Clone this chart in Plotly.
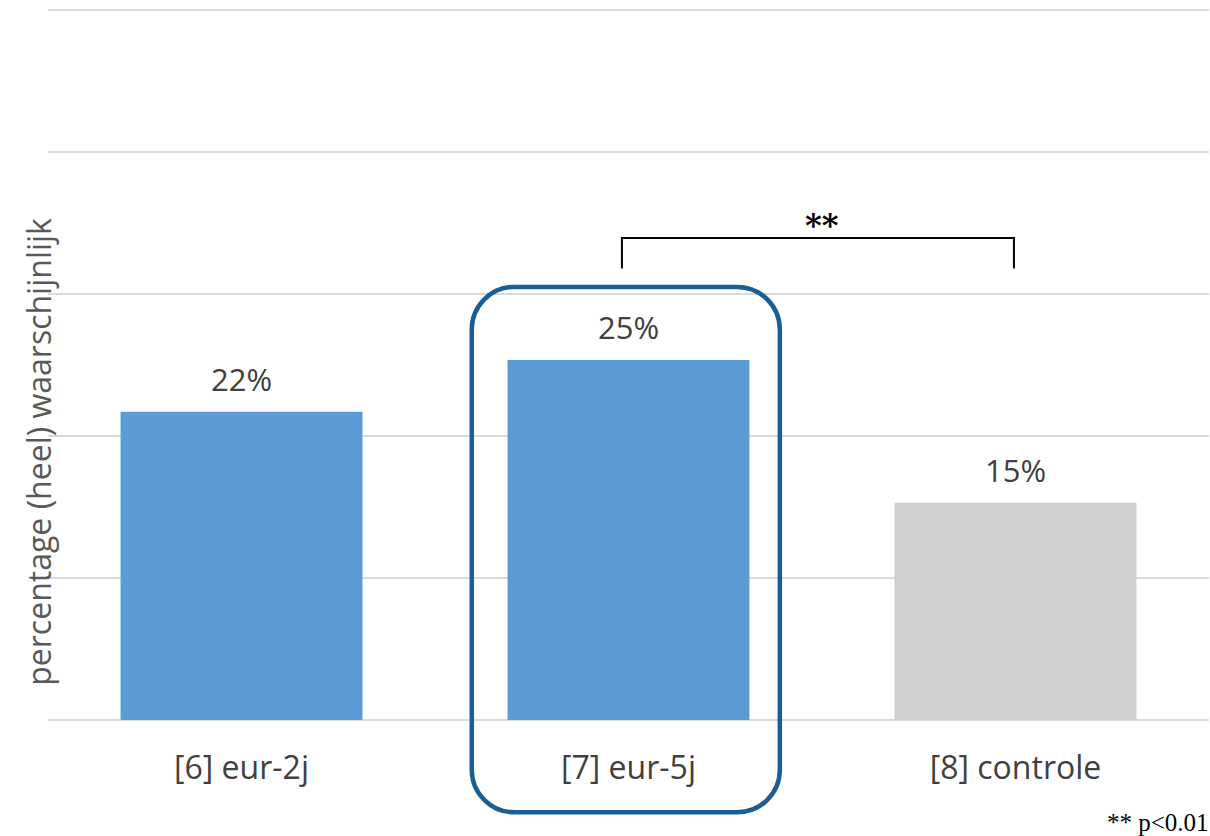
import plotly.graph_objects as go

categories = ["[6] eur-2j", "[7] eur-5j", "[8] controle"]
values = [21.7, 25.35, 15.3]
labels = ["22%", "25%", "15%"]
colors = ["#5b9bd5", "#5b9bd5", "#d0cece"]
y_ticks = [0, 10, 20, 30, 40, 50]
y_title = "percentage (heel) waarschijnlijk"
sig_text = "**"
footnote = "** p<0.01"
highlight_index = 1
bracket_pair = (1, 2)

LABEL_FONT = "Open Sans, Noto Sans, sans-serif"
TEXT_COLOR = "#404040"
Y_MAX = 50
X_MIN, X_MAX = -0.5, len(categories) - 0.5


def px(x):
    return (x - X_MIN) / (X_MAX - X_MIN)


def py(y):
    return y / Y_MAX


fig = go.Figure()
fig.add_trace(go.Bar(
    x=list(range(len(categories))),
    y=values,
    marker=dict(color=colors, line=dict(width=0)),
    width=0.625,
    hoverinfo="skip",
))

annotations = []
for i, (v, t) in enumerate(zip(values, labels)):
    annotations.append(dict(
        x=i, y=v, xref="x", yref="y", text=t, showarrow=False,
        yanchor="middle", yshift=33,
        font=dict(family=LABEL_FONT, size=31, color=TEXT_COLOR),
    ))

# y-axis title
annotations.append(dict(
    x=-0.0085, y=0.378, xref="paper", yref="paper", xanchor="center", yanchor="middle",
    text=y_title, showarrow=False, textangle=-90,
    font=dict(family=LABEL_FONT, size=32, color="#595959"),
))

shapes = []
# top gridline (plotly omits gridlines at the range edge)
shapes.append(dict(type="line", xref="paper", yref="paper", x0=0, x1=1,
                   y0=py(Y_MAX), y1=py(Y_MAX), line=dict(color="#d9d9d9", width=2),
                   layer="below"))

# rounded highlight box around the highlighted category (paper coords so it is not clipped)
cx = highlight_index
x0, x1 = px(cx - 0.405), px(cx + 0.391)
y0, y1 = py(-6.5), py(30.5)
rx, ry = 0.11 / (X_MAX - X_MIN), 3.0 / Y_MAX
k = 0.45
path = (
    f"M {x0 + rx},{y1} L {x1 - rx},{y1} "
    f"C {x1 - rx * k},{y1} {x1},{y1 - ry * k} {x1},{y1 - ry} "
    f"L {x1},{y0 + ry} "
    f"C {x1},{y0 + ry * k} {x1 - rx * k},{y0} {x1 - rx},{y0} "
    f"L {x0 + rx},{y0} "
    f"C {x0 + rx * k},{y0} {x0},{y0 + ry * k} {x0},{y0 + ry} "
    f"L {x0},{y1 - ry} "
    f"C {x0},{y1 - ry * k} {x0 + rx * k},{y1} {x0 + rx},{y1} Z"
)
shapes.append(dict(type="path", path=path, xref="paper", yref="paper",
                   line=dict(color="#1a5e96", width=4.5), layer="above"))

# significance bracket
bx0 = bracket_pair[0] - 0.017
bx1 = bracket_pair[1] - 0.004
by_top = 33.95
by_bot = 31.8
shapes.append(dict(type="path", xref="x", yref="y",
                   path=f"M {bx0},{by_bot} L {bx0},{by_top} L {bx1},{by_top} L {bx1},{by_bot}",
                   line=dict(color="#000000", width=2)))
annotations.append(dict(
    x=(bx0 + bx1) / 2 + 0.01, y=by_top, xref="x", yref="y", text="<b>" + sig_text + "</b>",
    showarrow=False, yanchor="middle", yshift=13,
    font=dict(family="DejaVu Serif, serif", size=32, color="#000000"),
))

# footnote
annotations.append(dict(
    x=1, y=0, xref="paper", yref="paper", xanchor="right", yanchor="middle",
    yshift=-102, xshift=2, text=footnote, showarrow=False,
    font=dict(family="Liberation Serif, DejaVu Serif, serif", size=25, color="#000000"),
))

fig.update_layout(
    width=1210, height=836,
    margin=dict(l=48, r=1, t=10, b=116),
    paper_bgcolor="white", plot_bgcolor="white",
    showlegend=False,
    annotations=annotations,
    shapes=shapes,
    xaxis=dict(
        range=[X_MIN, X_MAX],
        tickmode="array", tickvals=list(range(len(categories))), ticktext=categories,
        tickfont=dict(family=LABEL_FONT, size=32, color=TEXT_COLOR),
        showgrid=False, zeroline=False, showline=False, ticks="",
        ticklabelstandoff=26,
    ),
    yaxis=dict(
        range=[0, Y_MAX], tickmode="array", tickvals=y_ticks,
        showticklabels=False, showgrid=True, gridcolor="#d9d9d9", gridwidth=2,
        zeroline=True, zerolinecolor="#d9d9d9", zerolinewidth=2,
        showline=False, ticks="",
    ),
)

fig.write_html(
    "out.html",
    config={"displayModeBar": False},
    post_script="document.body.style.margin='0';document.documentElement.style.overflow='hidden';",
)
